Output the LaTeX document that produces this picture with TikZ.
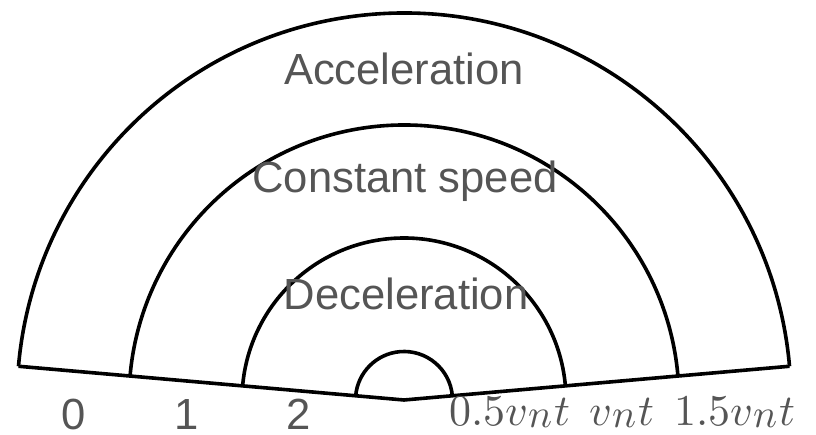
\documentclass[tikz,border=0pt]{standalone}
\usepackage{unicode-math}
\setmathfont{Latin Modern Math}
\newfontfamily\helv{Liberation Sans}
\definecolor{labelgray}{HTML}{555555}
\newcommand{\vsubn}{v\kern1.5pt\lower2pt\hbox{\fontsize{40}{44}\selectfont$n$}\kern2pt}
\tikzset{
	wall/.style={line width=3.6pt},
	zone/.style={anchor=base, inner sep=0pt, text=labelgray, font=\helv\fontsize{43.6}{50}\selectfont},
	tick/.style={anchor=base, inner sep=0pt, text=labelgray, font=\fontsize{44}{50}\selectfont}
}
\begin{document}
\begin{tikzpicture}[x=1pt,y=1pt]
	\useasboundingbox (0,0) rectangle (816,435);
	\coordinate (o) at (404,35);
	\draw[wall] (o) ++(175:387) -- (o) -- ++(5:387);
	\foreach \r in {48.5,162,275,387}
		\draw[wall] (o) ++(5:\r) arc[start angle=5, end angle=175, radius=\r];
	\node[zone] (acc) at (404,350) {Acceleration};
	\node[zone] (const) at (405,242) {Constant speed};
	\node[zone] (dec) at (406,125) {Deceleration};
	\node[zone] (l0) at (74,5) {0};
	\node[zone] (l1) at (187,5) {1};
	\node[zone] (l2) at (299,5) {2};
	\node[tick] (r0) at (510,9) {$0.5\vsubn t$};
	\node[tick] (r1) at (622,9) {$\vsubn t$};
	\node[tick] (r2) at (735,9) {$1.5\vsubn t$};
\end{tikzpicture}
\end{document}
